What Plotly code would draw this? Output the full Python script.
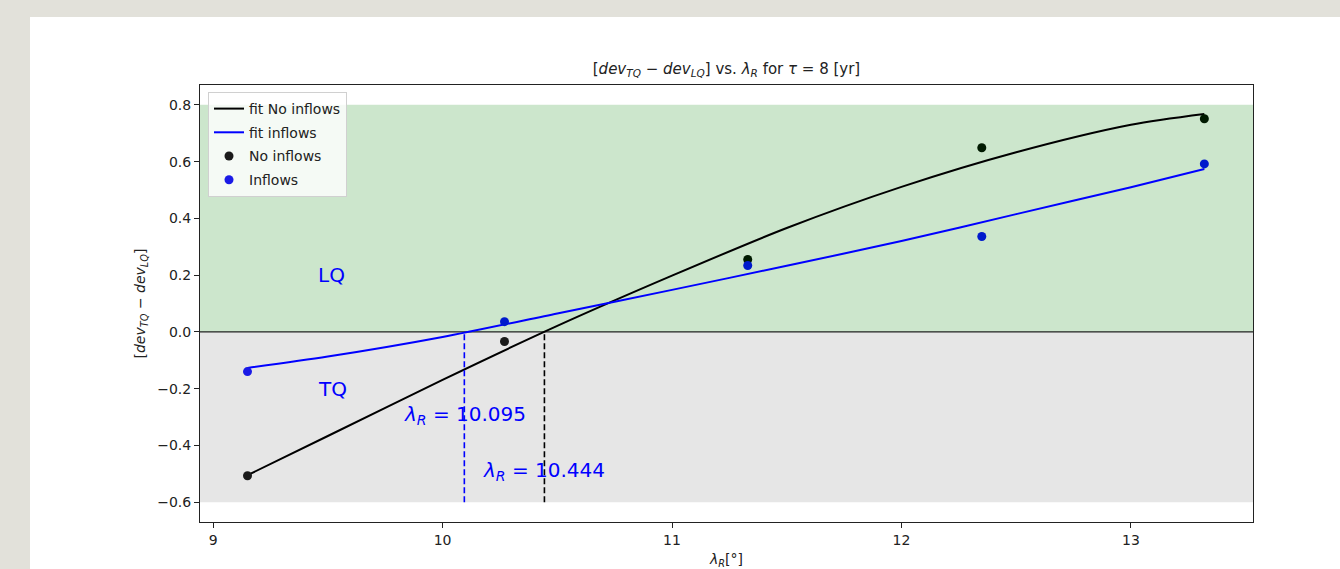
import plotly.graph_objects as go

# ---------------- data ----------------
lam_points = [9.15, 10.27, 11.33, 12.35, 13.32]
dev_no_inflows = [-0.507, -0.034, 0.255, 0.649, 0.751]
dev_inflows = [-0.140, 0.036, 0.234, 0.336, 0.592]

fit_lam = [9.15, 9.5, 10.0, 10.5, 11.0, 11.5, 12.0, 12.5, 13.0, 13.32]
fit_no_inflows = [-0.505, -0.367, -0.169, 0.021, 0.198, 0.366, 0.511, 0.633, 0.730, 0.768]
fit_inflows = [-0.127, -0.087, -0.018, 0.065, 0.148, 0.233, 0.320, 0.415, 0.510, 0.574]

cross_no_inflows = 10.444
cross_inflows = 10.095

LQ_TOP = 0.8
BOUNDARY = 0.0
TQ_BOTTOM = -0.6

x_ticks = [9, 10, 11, 12, 13]
y_ticks = [-0.6, -0.4, -0.2, 0.0, 0.2, 0.4, 0.6, 0.8]

# ---------------- style ----------------
FONT = "DejaVu Sans"
GREEN_RGB = (0, 128, 0)
GRAY_RGB = (128, 128, 128)
SPAN_ALPHA = 0.2


def tinted(rgb, ys):
    """Markers sit beneath the translucent spans in the original."""
    out = []
    for y in ys:
        over = GREEN_RGB if y >= BOUNDARY else GRAY_RGB
        c = [round(rgb[i] * (1 - SPAN_ALPHA) + over[i] * SPAN_ALPHA) for i in range(3)]
        out.append(f"rgb({c[0]},{c[1]},{c[2]})")
    return out


fig = go.Figure()

fig.add_trace(go.Scatter(
    x=fit_lam, y=fit_no_inflows, mode="lines", name="fit No inflows", legendgroup="a",
    line=dict(color="black", width=2, shape="spline", smoothing=0.8),
))
fig.add_trace(go.Scatter(
    x=fit_lam, y=fit_inflows, mode="lines", name="fit inflows", legendgroup="b",
    line=dict(color="blue", width=2, shape="spline", smoothing=0.8),
))
fig.add_trace(go.Scatter(
    x=lam_points, y=dev_no_inflows, mode="markers", name="No inflows", legendgroup="c",
    marker=dict(size=9, color=tinted((0, 0, 0), dev_no_inflows), line=dict(width=0)),
))
fig.add_trace(go.Scatter(
    x=lam_points, y=dev_inflows, mode="markers", name="Inflows", legendgroup="d",
    marker=dict(size=9, color=tinted((0, 0, 255), dev_inflows), line=dict(width=0)),
))

# dashed crossing markers
fig.add_trace(go.Scatter(
    x=[cross_inflows, cross_inflows], y=[TQ_BOTTOM, BOUNDARY], mode="lines",
    line=dict(color="blue", width=1.6, dash="6px,3px"), showlegend=False, hoverinfo="skip",
))
fig.add_trace(go.Scatter(
    x=[cross_no_inflows, cross_no_inflows], y=[TQ_BOTTOM, BOUNDARY], mode="lines",
    line=dict(color="black", width=1.6, dash="6px,3px"), showlegend=False, hoverinfo="skip",
))

# plot area pixel geometry
W, H = 1340, 569
L, R, T, B = 200, 87, 85, 47
pw, ph = W - L - R, H - T - B


def px_x(px):
    return (px - L) / pw


def px_y(py):
    return 1 - (py - T) / ph


shapes = [
    # imitation of the photo strip behind the figure + white figure
    dict(type="rect", xref="paper", yref="paper", x0=px_x(30), x1=px_x(W + 5),
         y0=px_y(H + 5), y1=px_y(17), fillcolor="white", line=dict(width=0), layer="below"),
    dict(type="rect", xref="paper", yref="y", x0=0, x1=1, y0=BOUNDARY, y1=LQ_TOP,
         fillcolor=f"rgba({GREEN_RGB[0]},{GREEN_RGB[1]},{GREEN_RGB[2]},{SPAN_ALPHA})",
         line=dict(width=0), layer="below"),
    dict(type="rect", xref="paper", yref="y", x0=0, x1=1, y0=TQ_BOTTOM, y1=BOUNDARY,
         fillcolor=f"rgba({GRAY_RGB[0]},{GRAY_RGB[1]},{GRAY_RGB[2]},{SPAN_ALPHA})",
         line=dict(width=0), layer="below"),
    dict(type="line", xref="paper", yref="y", x0=0, x1=1, y0=BOUNDARY, y1=BOUNDARY,
         line=dict(color="#222222", width=1.3), layer="below"),
]

lam_sub = "<i>λ</i><sub><i>R</i></sub>"
annotations = [
    dict(x=9.45, y=0.2, text="LQ", xanchor="left", yanchor="middle", showarrow=False,
         font=dict(family=FONT, size=20, color="blue")),
    dict(x=9.45, y=-0.2, text="TQ", xanchor="left", yanchor="middle", showarrow=False,
         font=dict(family=FONT, size=20, color="blue")),
    dict(x=9.825, y=-0.292, text=f"{lam_sub} = {cross_inflows:.3f}", xanchor="left",
         yanchor="middle", showarrow=False, font=dict(family=FONT, size=20, color="blue")),
    dict(x=10.168, y=-0.492, text=f"{lam_sub} = {cross_no_inflows:.3f}", xanchor="left",
         yanchor="middle", showarrow=False, font=dict(family=FONT, size=20, color="blue")),
]

title_text = ("[<i>dev</i><sub><i>TQ</i></sub> − <i>dev</i><sub><i>LQ</i></sub>] vs. "
              "<i>λ</i><sub><i>R</i></sub> for <i>τ</i> = 8 [yr]")

fig.update_layout(
    width=W, height=H, autosize=False,
    margin=dict(l=L, r=R, t=T, b=B, pad=0, autoexpand=False),
    paper_bgcolor="#e2e1da",
    plot_bgcolor="rgba(0,0,0,0)",
    font=dict(family=FONT, size=14, color="#222222"),
    title=dict(text=title_text, x=0.5, xref="paper", xanchor="center",
               y=1 - 69 / H, yref="container", yanchor="middle",
               font=dict(family=FONT, size=15, color="#222222")),
    shapes=shapes,
    annotations=annotations,
    showlegend=True,
    legend=dict(x=px_x(208), y=px_y(92), xanchor="left", yanchor="top",
                bgcolor="rgba(255,255,255,0.8)", bordercolor="#d0d0d0", borderwidth=1,
                font=dict(family=FONT, size=14, color="#222222"),
                itemwidth=30, tracegroupgap=2.5, traceorder="grouped"),
    xaxis=dict(range=[8.943, 13.532], tickvals=x_ticks, ticktext=[str(v) for v in x_ticks],
               automargin=False,
               showgrid=False, zeroline=False, showline=True, mirror=True,
               linecolor="#222222", linewidth=1, ticks="outside", ticklen=5,
               tickcolor="#222222", tickfont=dict(size=14),
               title=dict(text="<i>λ</i><sub><i>R</i></sub>[°]", standoff=10,
                          font=dict(size=14))),
    yaxis=dict(range=[-0.67, 0.87], tickvals=y_ticks, tickformat=".1f",
               automargin=False,
               showgrid=False, zeroline=False, showline=True, mirror=True,
               linecolor="#222222", linewidth=1, ticks="outside", ticklen=5,
               tickcolor="#222222", tickfont=dict(size=14),
               title=dict(text="[<i>dev</i><sub><i>TQ</i></sub> − <i>dev</i><sub><i>LQ</i></sub>]",
                          standoff=8, font=dict(size=14))),
)

fig.write_html(
    "out.html",
    config={"displayModeBar": False},
    post_script="document.body.style.margin='0';document.body.style.overflow='hidden';",
)
